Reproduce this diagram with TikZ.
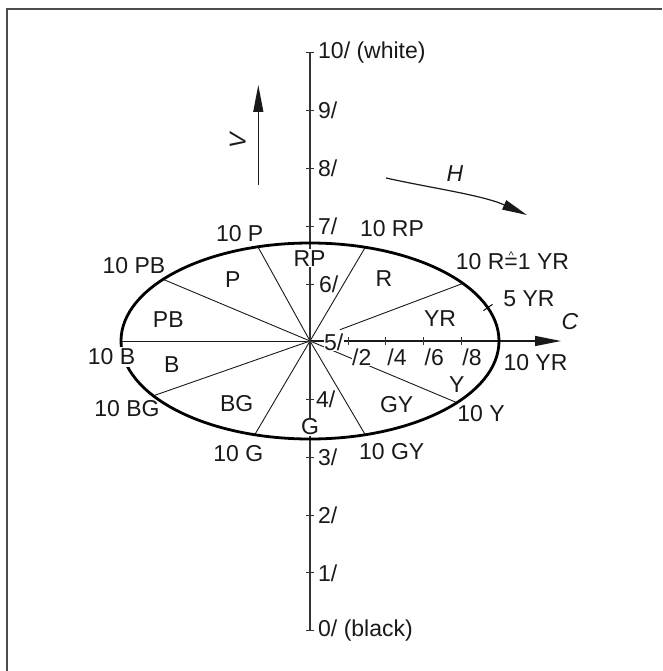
\documentclass[tikz,border=0pt]{standalone}
\usepackage{fontspec}
\setmainfont{Liberation Sans}
\usetikzlibrary{arrows.meta,calc}
\newcommand{\corrsym}{\ooalign{=\cr\hidewidth\raisebox{0.43em}{\fontsize{11}{11}\selectfont\textasciicircum}\hidewidth\cr}}
\begin{document}
\begin{tikzpicture}[x=1pt,y=-1pt,
  lbl/.style={font=\fontsize{23}{27}\selectfont, text=black!90, inner sep=0pt},
  wlbl/.style={lbl, fill=white, inner sep=1pt},
  vlbl/.style={lbl, anchor=west},
  ilbl/.style={lbl, font=\fontsize{23}{27}\selectfont\itshape},
  rad/.style={line width=0.9pt, black!90},
  vaxis/.style={line width=1.5pt, black!80},
  caxis/.style={line width=1.2pt, black!90},
  tickmark/.style={line width=1pt, black!80},
  ell/.style={line width=2.8pt, black},
  frameline/.style={line width=2pt, black!70},
  bigtip/.style={-{Triangle[length=26pt,width=10pt]}}
]
\useasboundingbox (0,0) rectangle (662,671);
% frame (top and left)
\draw[frameline] (6.7,671) -- (6.7,9) -- (662,9);

% centre and ellipse points
\coordinate (O) at (310,341);
\foreach \a/\n in {36/R,73/RP,106/P,141/PB,180/B,214/BG,253/G,287/GY,321/Y}
  \coordinate (e\n) at ({310+189*cos(\a)},{341-98*sin(\a)});
\coordinate (eYR) at (499,341);

% radial lines
\draw[rad] ($(O)!0.196!(eR)$) -- (eR);
\foreach \n in {RP,P,PB,B,BG,G,GY,Y} \draw[rad] (O) -- (e\n);

% chroma axis
\coordinate (Ctip) at (561,341);
\draw[caxis,bigtip] (O) -- (Ctip);
\foreach \k in {1,2,3,4}
  \draw[tickmark] ({310.5+37.7*\k},337) -- ({310.5+37.7*\k},345);

% value axis
\coordinate (vtop) at (310,53);
\coordinate (vbot) at (310,630.7);
\draw[vaxis] (vbot) -- (vtop);
\foreach \k in {0,...,10}
  \draw[tickmark] (306.3,{630.7-57.77*\k}) -- (313.7,{630.7-57.77*\k});

% ellipse
\draw[ell] (O) ellipse [x radius=189, y radius=98];
% 5 YR tick
\coordinate (t5a) at (483.5,310.6);
\coordinate (t5b) at (492.5,304.4);
\draw[tickmark,black] (t5a) -- (t5b);

% V arrow
\coordinate (Vs) at (258.3,185);
\coordinate (Ve) at (258.3,85);
\draw[line width=1.2pt,black!90,-{Triangle[length=27pt,width=10pt]}] (Vs) -- (Ve);
\node[ilbl, rotate=90] (Vl) at (237.6,140.6) {V};

% H arrow
\coordinate (Hs) at (386,178);
\coordinate (He) at (527,215);
\draw[line width=1.2pt,black!90,-{Triangle[length=25pt,width=10pt]}] (Hs) .. controls (431,188) and (482,195) .. (He);
\node[ilbl] (Hl) at (455,173.3) {H};
\node[ilbl] (Cl) at (570,322) {C};

% value labels
\node[vlbl] (v10) at (318,{630.7-57.77*10}) {10/ (white)};
\node[vlbl] (v9) at (318,{630.7-57.77*9}) {9/};
\node[vlbl] (v8) at (318,{630.7-57.77*8}) {8/};
\node[vlbl] (v7) at (318,{630.7-57.77*7}) {7/};
\node[vlbl] (v6) at (319,{630.7-57.77*6}) {6/};
\node[vlbl, fill=white, inner sep=0.5pt] (v5) at (323.5,341.8) {5/};
\node[vlbl] (v4) at (316,{630.7-57.77*4}) {4/};
\node[vlbl] (v3) at (318,{630.7-57.77*3}) {3/};
\node[vlbl] (v2) at (318,{630.7-57.77*2}) {2/};
\node[vlbl] (v1) at (318,{630.7-57.77*1}) {1/};
\node[vlbl] (v0) at (318,630.7) {0/ (black)};

% chroma labels
\node[vlbl, fill=white, inner sep=0.5pt] (c2) at (351.5,357) {/2};
\node[vlbl] (c4) at (387.2,357) {/4};
\node[vlbl] (c6) at (424.5,357) {/6};
\node[vlbl] (c8) at (462.2,357) {/8};

% hue labels
\node[lbl] (l10P) at (239.7,233.3) {10 P};
\node[lbl] (l10RP) at (392,228.5) {10 RP};
\node[wlbl] (lRP) at (309.6,258.3) {RP};
\node[lbl] (lP) at (232.7,279.3) {P};
\node[lbl] (lR) at (384,279) {R};
\node[lbl] (l10PB) at (134,265.5) {10 PB};
\node[lbl] (lPB) at (168.3,320) {PB};
\node[wlbl, inner sep=2pt] (l10B) at (111.5,357) {10 B};
\node[lbl] (lB) at (171.7,365) {B};
\node[lbl] (l10BG) at (127,409) {10 BG};
\node[lbl] (lBG) at (236.7,403.3) {BG};
\node[lbl] (l10G) at (238.3,454) {10 G};
\node[wlbl] (lG) at (310,426.7) {G};
\node[lbl] (lGY) at (396.7,405) {GY};
\node[lbl] (l10GY) at (391.7,451.7) {10 GY};
\node[lbl] (lY) at (456.7,385) {Y};
\node[lbl] (l10Y) at (481,414) {10 Y};
\node[lbl] (lYR) at (440,318.3) {YR};
\node[lbl] (l10YR) at (535.5,363) {10 YR};
\node[lbl] (l5YR) at (529,299) {5 YR};
\node[lbl] (l10R) at (512.5,261.7) {10 R\corrsym 1 YR};
\end{tikzpicture}
\end{document}
